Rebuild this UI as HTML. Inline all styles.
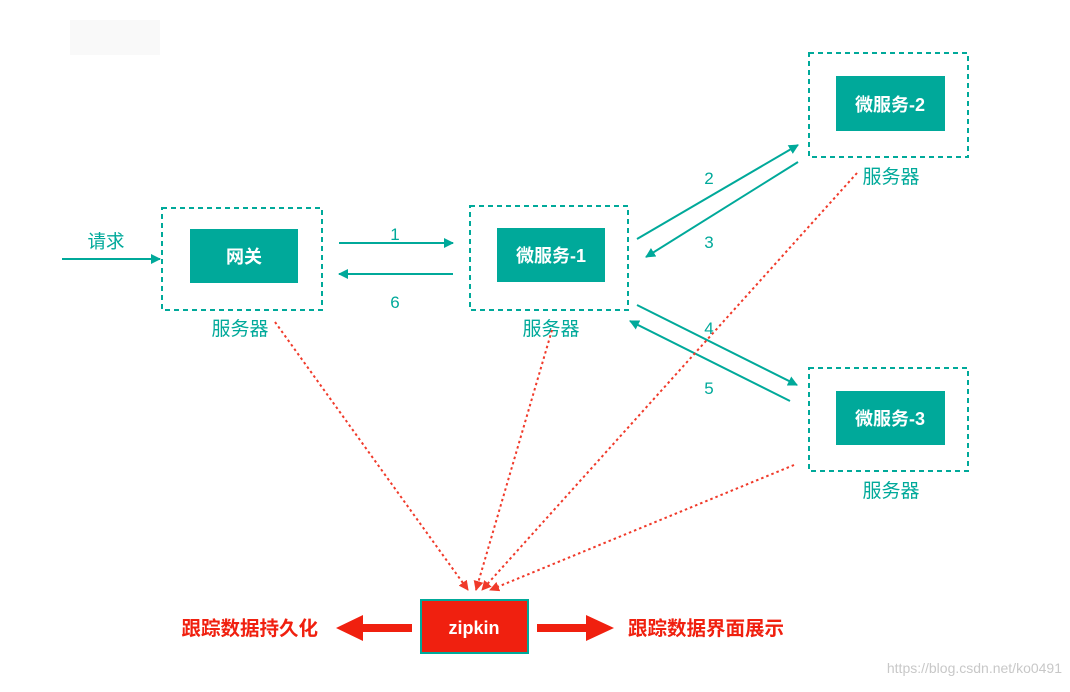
<!DOCTYPE html>
<html><head><meta charset="utf-8"><style>
html,body{margin:0;padding:0;background:#fff;}
svg text{font-family:"Liberation Sans","Noto Sans CJK SC",sans-serif;}
</style></head><body>
<svg width="1070" height="687" viewBox="0 0 1070 687" xmlns="http://www.w3.org/2000/svg">
<defs>
<marker id="ta" markerWidth="10" markerHeight="10" refX="9" refY="5" orient="auto" markerUnits="userSpaceOnUse">
<path d="M0,0 L10,5 L0,10 z" fill="#00a99a"/></marker>
<marker id="ra" markerWidth="10" markerHeight="10" refX="9" refY="5" orient="auto" markerUnits="userSpaceOnUse">
<path d="M0,0 L10,5 L0,10 z" fill="#f03a2a"/></marker>
</defs>
<rect x="70" y="20" width="90" height="35" fill="#f5f5f5" opacity="0.6"/>
<g fill="none" stroke="#00a99a" stroke-width="2" stroke-dasharray="5,4">
<rect x="162" y="208" width="160" height="102"/>
<rect x="470" y="206" width="158" height="104"/>
<rect x="809" y="53" width="159" height="104"/>
<rect x="809" y="368" width="159" height="103"/>
</g>
<g fill="#00a99a">
<rect x="190" y="229" width="108" height="54"/>
<rect x="497" y="228" width="108" height="54"/>
<rect x="836" y="76" width="109" height="55"/>
<rect x="836" y="391" width="109" height="54"/>
</g>
<g fill="#fff" font-weight="bold" font-size="18" text-anchor="middle">
<text x="244" y="263">网关</text>
<text x="551" y="262">微服务-1</text>
<text x="890" y="111">微服务-2</text>
<text x="890" y="425">微服务-3</text>
</g>
<g fill="#00a99a" font-size="19" text-anchor="middle">
<text x="240" y="335">服务器</text>
<text x="551" y="335">服务器</text>
<text x="891" y="183">服务器</text>
<text x="891" y="497">服务器</text>
<text x="106" y="248" font-size="18.5">请求</text>
<text x="395" y="240" font-size="17">1</text>
<text x="395" y="308" font-size="17">6</text>
<text x="709" y="184" font-size="17">2</text>
<text x="709" y="248" font-size="17">3</text>
<text x="709" y="334" font-size="17">4</text>
<text x="709" y="394" font-size="17">5</text>
</g>
<g stroke="#00a99a" stroke-width="2" marker-end="url(#ta)">
<line x1="62" y1="259" x2="160" y2="259"/>
<line x1="339" y1="243" x2="453" y2="243"/>
<line x1="453" y1="274" x2="339" y2="274"/>
<line x1="637" y1="239" x2="798" y2="145"/>
<line x1="798" y1="162" x2="646" y2="257"/>
<line x1="637" y1="305" x2="797" y2="385"/>
<line x1="790" y1="401" x2="630" y2="321"/>
</g>
<g stroke="#f03a2a" stroke-width="2" stroke-dasharray="2.5,3" marker-end="url(#ra)">
<line x1="275" y1="322" x2="468" y2="590"/>
<line x1="552" y1="330" x2="476" y2="590"/>
<line x1="857" y1="173" x2="482" y2="590"/>
<line x1="794" y1="465" x2="490" y2="590"/>
</g>
<rect x="421" y="600" width="107" height="53" fill="#f0200f" stroke="#00a99a" stroke-width="2"/>
<text x="474" y="634" fill="#fff" font-weight="bold" font-size="18" text-anchor="middle">zipkin</text>
<rect x="362" y="624" width="50" height="8" fill="#f0200f"/>
<path d="M336,628 L363,615 L363,641 z" fill="#f0200f"/>
<rect x="537" y="624" width="50" height="8" fill="#f0200f"/>
<path d="M614,628 L586,615 L586,641 z" fill="#f0200f"/>
<g fill="#f0200f" font-weight="bold" font-size="19.5">
<text x="318" y="635" text-anchor="end">跟踪数据持久化</text>
<text x="628" y="635">跟踪数据界面展示</text>
</g>
<text x="1062" y="673" fill="#c8c8c8" font-size="14" text-anchor="end">https://blog.csdn.net/ko0491</text>
</svg>
</body></html>
